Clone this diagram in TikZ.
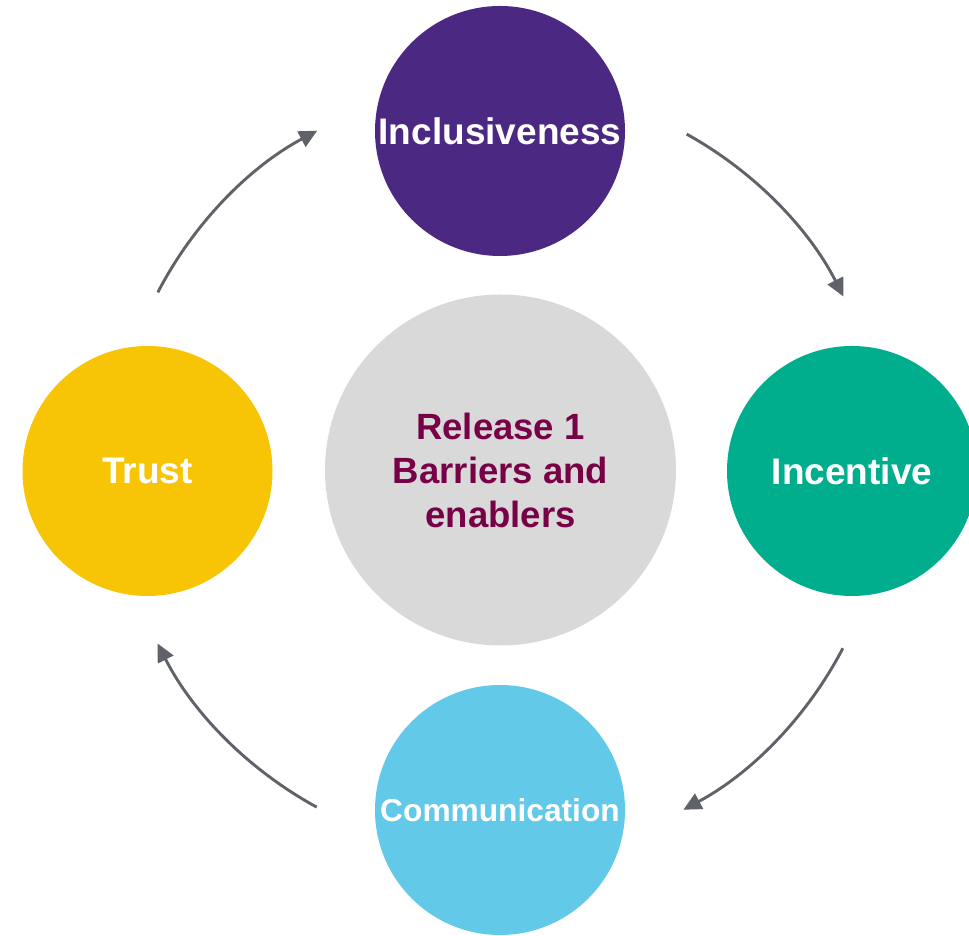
\documentclass[tikz,border=0pt]{standalone}
\usepackage{fontspec}
\setmainfont{Liberation Sans}
\usetikzlibrary{arrows.meta,calc}

\definecolor{inclpurple}{HTML}{4B2882}
\definecolor{incgreen}{HTML}{00AE8E}
\definecolor{trustyellow}{HTML}{F8C506}
\definecolor{commblue}{HTML}{63C9E8}
\definecolor{coregray}{HTML}{D9D9D9}
\definecolor{coretext}{HTML}{770047}
\definecolor{arrowgray}{HTML}{5F6369}

\tikzset{
  pillar/.style={circle, minimum size=250pt, inner sep=0pt, text=white,
    font=\fontsize{37}{44}\selectfont\bfseries},
  core/.style={circle, minimum size=351pt, inner sep=0pt, fill=coregray, text=coretext,
    align=center, font=\fontsize{36.5}{44}\selectfont\bfseries},
  cycle/.style={draw=arrowgray, line width=2.9pt,
    -{Triangle[length=18pt,width=17pt]}},
}

\begin{document}
\begin{tikzpicture}[x=1pt,y=1pt]
  \useasboundingbox (0,0) rectangle (969,936);

  % central topic
  \node[core] (core) at (500.5,466) {Release 1\\Barriers and\\enablers};

  % the four surrounding themes
  \node[pillar, fill=inclpurple] (incl) at (500,805) {Inclusiveness};
  \node[pillar, fill=incgreen] (incent) at (852,465) {Incentive};
  \node[pillar, fill=trustyellow] (trust) at (147.5,465) {Trust};
  \node[pillar, fill=commblue, font=\fontsize{31.7}{38}\selectfont\bfseries] (comm) at (500,126) {Communication};

  % clockwise cycle of arcs around the core
  \coordinate (a1) at ($(core)+(152.6:386)$);
  \coordinate (a2) at ($(core)+(61:384)$);
  \coordinate (a3) at ($(core)+(-27.5:386)$);
  \coordinate (a4) at ($(core)+(-118.6:384)$);

  \draw[cycle] (a1) arc[start angle=152.6, end angle=118.2, radius=384];
  \draw[cycle] (a2) arc[start angle=61, end angle=27, radius=386];
  \draw[cycle] (a3) arc[start angle=-27.5, end angle=-61.8, radius=385];
  \draw[cycle] (a4) arc[start angle=-118.6, end angle=-153, radius=386];
\end{tikzpicture}
\end{document}
